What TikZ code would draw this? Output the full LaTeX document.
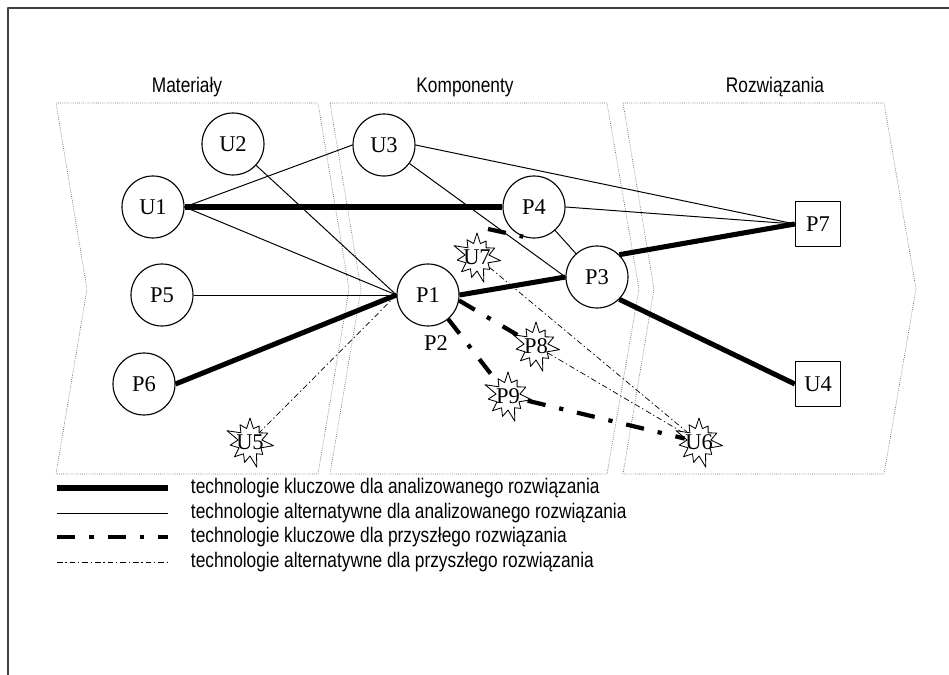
\documentclass[tikz,border=0pt]{standalone}
\usepackage{fontspec}
\setmainfont{Liberation Serif}
\newfontfamily\condsans[FakeStretch=0.82]{Liberation Sans}
\usetikzlibrary{shapes.geometric,shapes.symbols}

\begin{document}
\pgfmathsetseed{11}
\begin{tikzpicture}[line join=round,x=0.025cm,y=-0.025cm,
  tech/.style={circle,draw,line width=0.8pt,fill=white,minimum size=1.55cm,inner sep=0pt,font=\fontsize{16}{16}\selectfont},
  prod/.style={rectangle,draw,line width=0.8pt,fill=white,minimum size=1.13cm,inner sep=0pt,font=\fontsize{16}{16}\selectfont},
  burst/.style={starburst,starburst points=11,starburst point height=0.35cm,draw,line width=0.6pt,fill=white,
    minimum width=1.3cm,minimum height=1.4cm,inner sep=0pt,
    label={[font=\fontsize{16}{16}\selectfont]center:#1}},
  keynow/.style={line width=3.6pt},
  altnow/.style={line width=0.7pt},
  keyfut/.style={line width=3pt,dash pattern=on 13pt off 10pt on 3pt off 10pt},
  altfut/.style={line width=0.5pt,dash pattern=on 4pt off 2pt on 1pt off 2pt},
  panel/.style={densely dotted,line width=0.5pt,black!60},
  sans/.style={font=\condsans\fontsize{15}{15}\selectfont}]
\useasboundingbox (0,0) rectangle (949,675);
% frame
\draw [line width=1.2pt,black!75] (949,8) -- (8,8) -- (8,675);
% three stages
\draw [panel] (56,103) -- (318,103) -- (349,289) -- (318,474) -- (56,474) -- (87,289) -- cycle;
\draw [panel] (330,103) -- (607,103) -- (639,289) -- (607,474) -- (330,474) -- (361,289) -- cycle;
\draw [panel] (623,103) -- (884,103) -- (916,289) -- (884,474) -- (623,474) -- (654,289) -- cycle;
\node [sans] (tmat) at (187,87) {Materiały};
\node [sans] (tkom) at (465,87) {Komponenty};
\node [sans] (troz) at (775,87) {Rozwiązania};
% technologies
\node [tech] (U1) at (153,207) {U1};
\node [tech] (U2) at (233,144) {U2};
\node [tech] (U3) at (384,145) {U3};
\node [tech] (P4) at (534,207) {P4};
\node [tech] (P3) at (597,277) {P3};
\node [tech] (P1) at (428,295) {P1};
\node [tech] (P5) at (162,295) {P5};
\node [tech] (P6) at (144,384) {P6};
\node [prod] (P7) at (818,224) {P7};
\node [prod] (U4) at (818,384) {U4};
\node [burst=U5] (U5) at (250,442) {};
\node [burst=U6] (U6) at (699,442) {};
\node [burst=U7] (U7) at (477,257) {};
\node [burst=P8] (P8) at (536,346) {};
\node [burst=P9] (P9) at (508,396) {};
\node [font=\fontsize{16}{16}\selectfont] (P2) at (436,343) {P2};
\coordinate (u7tip) at (488,229);
% current links
\draw [altnow] (U1.east) -- (U3.west);
\draw [altnow] (U1.east) -- (P1.west);
\draw [altnow] (U2) -- (P1.west);
\draw [altnow] (P5.east) -- (P1.west);
\draw [altnow] (U3) -- (P3.west);
\draw [altnow] (U3.east) -- (P7.west);
\draw [altnow] (P4.east) -- (P7.west);
\draw [altnow] (P4) -- (P3);
\draw [keynow] (U1.east) -- (P4.west);
\draw [keynow] (P6.east) -- (P1.west);
\draw [keynow] (P1.east) -- (P3.west);
\draw [keynow] (P3.north east) -- (P7.west);
\draw [keynow] (P3.south east) -- (U4.west);
% future links
\draw [keyfut] (P1.-10) -- (P8);
\draw [keyfut] (P1.-50) -- (P9);
\draw [keyfut] (P9) -- (U6);
\draw [keyfut] (u7tip) -- (P4.250);
\draw [altfut] (P1.west) -- (U5);
\draw [altfut] (U7) -- (U6);
\draw [altfut] (P8) -- (U6);
% legend
\draw [keynow] (57,488) -- (168,488);
\draw [altnow] (57,513) -- (168,513);
\draw [keyfut] (57,537) -- (168,537);
\draw [altfut] (57,562) -- (168,562);
\node [sans,anchor=west] (l1) at (186,488) {technologie kluczowe dla analizowanego rozwiązania};
\node [sans,anchor=west] (l2) at (186,513) {technologie alternatywne dla analizowanego rozwiązania};
\node [sans,anchor=west] (l3) at (186,537) {technologie kluczowe dla przyszłego rozwiązania};
\node [sans,anchor=west] (l4) at (186,562) {technologie alternatywne dla przyszłego rozwiązania};
\end{tikzpicture}
\end{document}
